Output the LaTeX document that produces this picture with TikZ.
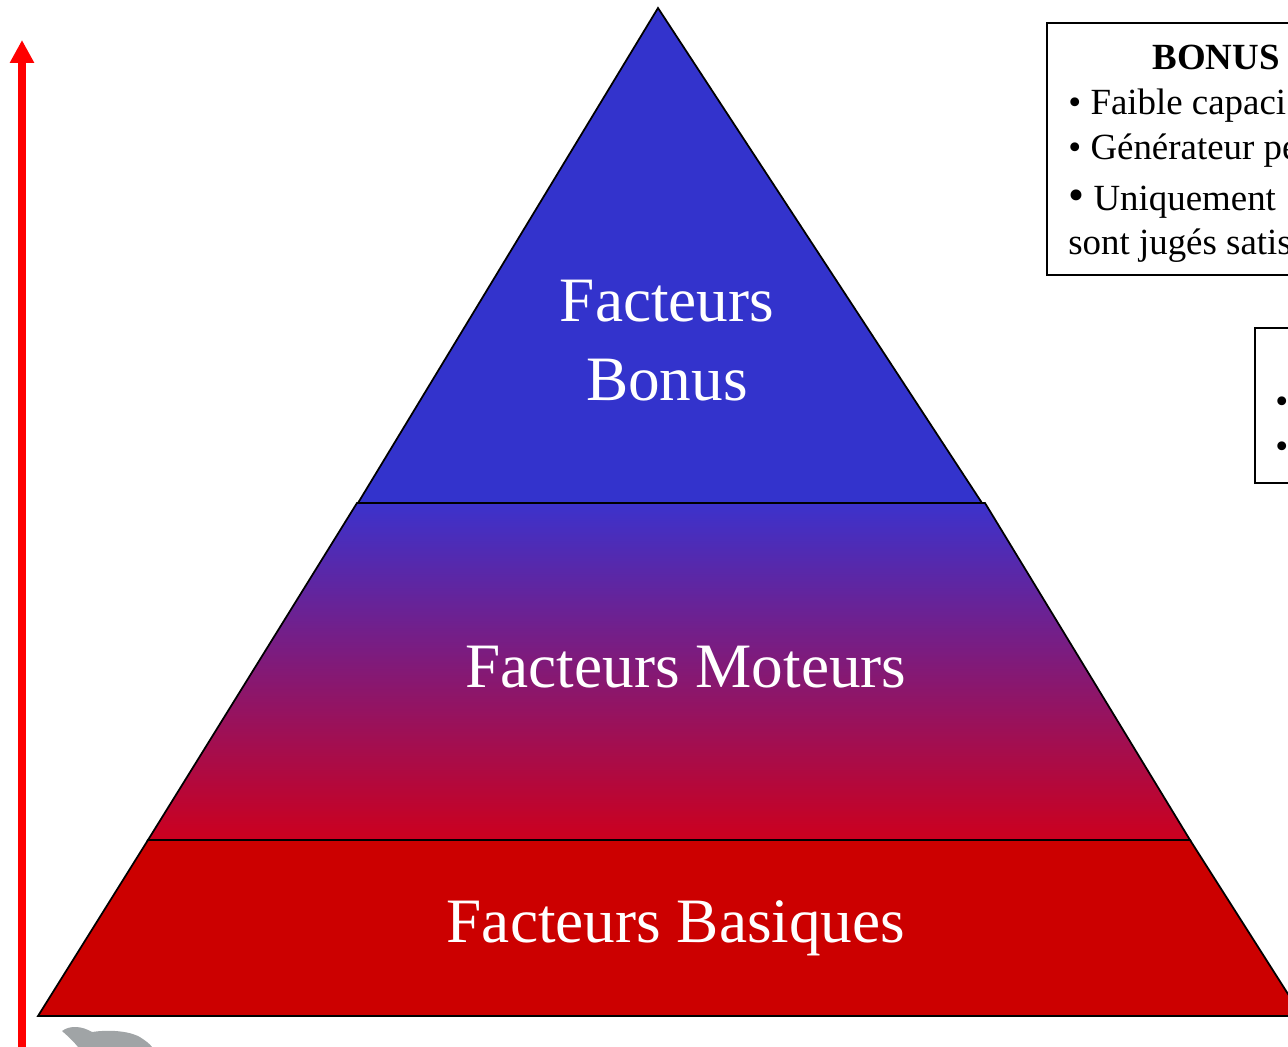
\documentclass[tikz,border=0pt]{standalone}
\usepackage{fontspec}
\setmainfont{Liberation Serif}
\usetikzlibrary{arrows.meta}

\definecolor{bonusblue}{RGB}{51,51,204}
\definecolor{moteurtop}{RGB}{60,50,204}
\definecolor{moteurmid}{RGB}{178,42,168}
\definecolor{moteurbot}{RGB}{204,0,30}
\definecolor{basicred}{RGB}{204,0,0}
\definecolor{logogray}{RGB}{160,164,166}

\tikzset{
  band/.style={draw=black, line width=1pt, line join=miter},
  bandtext/.style={text=white, font=\fontsize{36}{43}\selectfont, align=center},
  boxtext/.style={anchor=base west, inner sep=0pt, font=\fontsize{21}{25}\selectfont},
  infobox/.style={draw=black, line width=0.8pt}
}

\begin{document}
\begin{tikzpicture}[x=0.02cm, y=-0.02cm]

    \useasboundingbox (0,0) rectangle (1288,1047);
    \clip (0,0) rectangle (1288,1047);

    % bands of the pyramid
    \path[band, fill=basicred]
        (148,840) -- (1190,840) -- (1302,1016) -- (38,1016) -- cycle;
    \path[band, top color=moteurtop, middle color=moteurmid, bottom color=moteurbot]
        (357,503) -- (985,503) -- (1190,840) -- (148,840) -- cycle;
    \path[band, fill=bonusblue]
        (658,8) -- (982,503) -- (358,503) -- cycle;

    \node[bandtext] (bonus) at (667,341) {Facteurs\\[2pt]Bonus};
    \node[bandtext] (moteurs) at (686,667) {Facteurs Moteurs};
    \node[bandtext] (basiques) at (676,928) {Facteurs Basiques};

    % axis
    \coordinate (axisbottom) at (22,1047);
    \coordinate (axistop) at (22,40);
    \draw[-{Triangle[width=0.46cm,length=0.46cm]}, red, line width=4pt]
        (axisbottom) -- (axistop);

    % box BONUS
    \draw[infobox] (1047,23) rectangle (1400,275);
    \node[anchor=base, inner sep=0pt, font=\fontsize{21}{25}\selectfont\bfseries] (bonustitle) at (1216,70) {BONUS};
    \node[boxtext] (bonusa) at (1068,115) {• Faible capaci};
    \node[boxtext] (bonusb) at (1068,160) {• Générateur pe};
    \node[boxtext] (bonusc) at (1068,211) {{\fontsize{26}{25}\selectfont•} Uniquement};
    \node[boxtext] (bonusd) at (1068,255) {sont jugés satis};

    % second box
    \draw[infobox] (1255,328) rectangle (1400,483);
    \node[boxtext] (motsa) at (1275,414) {•};
    \node[boxtext] (motsb) at (1275,459) {•};

    % logo
    \path[fill=logogray] (62,1031) .. controls (70,1025) and (82,1026) .. (92,1032)
        .. controls (105,1030) and (125,1030) .. (138,1036)
        .. controls (145,1040) and (150,1044) .. (152,1047)
        -- (78,1047) .. controls (74,1042) and (70,1038) .. (62,1031) -- cycle;

\end{tikzpicture}
\end{document}
